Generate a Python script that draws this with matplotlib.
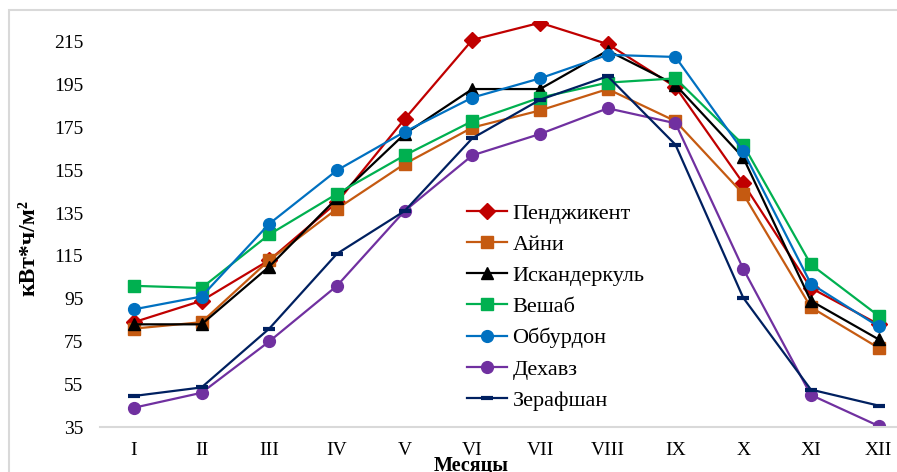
import numpy as np
import matplotlib.pyplot as plt
from matplotlib.patches import Rectangle

months = ["I", "II", "III", "IV", "V", "VI", "VII", "VIII", "IX", "X", "XI", "XII"]
y_ticks = [35, 55, 75, 95, 115, 135, 155, 175, 195, 215]

penjikent = [84, 94, 113, 140, 179, 216, 224, 214, 194, 149, 100, 83]
ayni = [81, 84, 113, 137, 158, 175, 183, 193, 178, 144, 91, 72]
iskanderkul = [83, 83, 110, 142, 172, 193, 193, 211, 195, 161, 94, 76]
veshab = [101, 100, 125, 144, 162, 178, 189, 196, 198, 167, 111, 87]
obburdon = [90, 96, 130, 155, 173, 189, 198, 209, 208, 164, 102, 82]
dehavz = [44, 51, 75, 101, 136, 162, 172, 184, 177, 109, 50, 35.5]
zerafshan = [49.5, 53.5, 81, 116, 136, 170, 188, 199, 167, 95.5, 52.5, 45]

series = [
    ("Пенджикент", penjikent, "#C00000", "D", 8),
    ("Айни", ayni, "#C55A11", "s", 8),
    ("Искандеркуль", iskanderkul, "#000000", "^", 8.5),
    ("Вешаб", veshab, "#00B050", "s", 8),
    ("Оббурдон", obburdon, "#0070C0", "o", 8.5),
    ("Дехавз", dehavz, "#7030A0", "o", 8.5),
    ("Зерафшан", zerafshan, "#002060", "_", 9),
]

plt.rcParams['font.family'] = ['Liberation Serif', 'DejaVu Serif']

fig = plt.figure(figsize=(8.97, 4.72), dpi=100)
# light outer frame of the chart area
fig.patches.append(Rectangle((9 / 897, -0.1), 1.2, 1 - 10 / 472 + 0.1,
                             transform=fig.transFigure, fill=False,
                             edgecolor="#D9D9D9", linewidth=1.5))

ax = fig.add_axes([100 / 897, 45 / 472, 797 / 897, (427 - 20.6) / 472])
x = np.arange(1, len(months) + 1)

for name, vals, color, mk, ms in series:
    if mk == "_":
        ax.plot(x, vals, color=color, linewidth=1.6, marker=mk, markersize=ms,
                markeredgewidth=3, label=name)
    else:
        ax.plot(x, vals, color=color, linewidth=1.6, marker=mk, markersize=ms,
                markeredgecolor=color, label=name)

ax.set_xlim(0.5, 0.5 + 797 / 67.7)
ax.set_ylim(35, 225)
ax.set_xticks(x)
ax.set_xticklabels(months)
ax.set_yticks(y_ticks)
ax.tick_params(axis='both', length=0, labelsize=14, colors="#000000")
ax.tick_params(axis='x', pad=11)
ax.tick_params(axis='y', pad=12)

for s in ["top", "right", "left"]:
    ax.spines[s].set_visible(False)
ax.spines["bottom"].set_color("#D9D9D9")
ax.spines["bottom"].set_linewidth(1.5)

fig.text(29 / 897, 1 - 248 / 472, "кВт*ч/м²", rotation=90, fontsize=17,
         fontweight="bold", ha="center", va="center")
fig.text(471 / 897, 1 - 466 / 472, "Месяцы", fontsize=14.5,
         fontweight="bold", ha="center", va="center")

leg = ax.legend(loc="upper left", bbox_to_anchor=((467 - 100) / 797, (427 - 203) / 406.4),
                frameon=False, fontsize=16, handlelength=1.8, handletextpad=0.25,
                labelspacing=0.48, borderpad=0, borderaxespad=0)

fig.savefig("out.png", dpi=100)
